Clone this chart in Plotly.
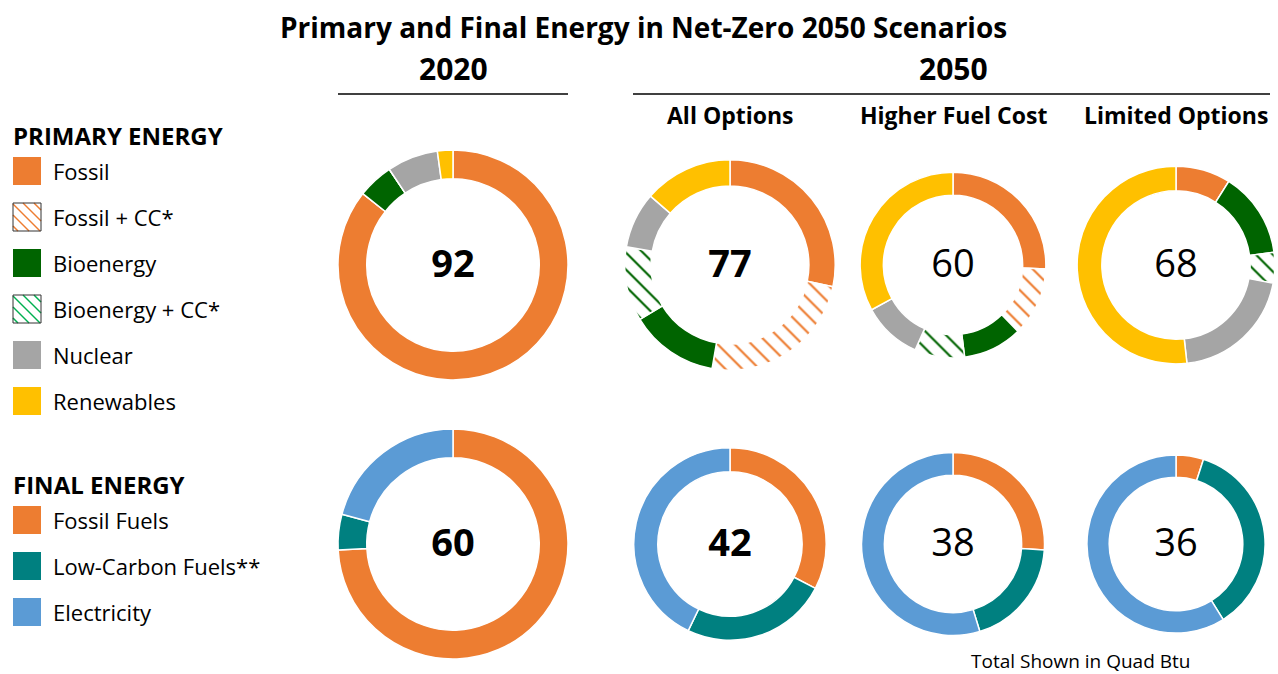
import plotly.graph_objects as go

W, H = 1278, 674

# primary energy, quad Btu (clockwise from 12 o'clock)
primary_labels = ["Fossil", "Fossil + CC*", "Bioenergy", "Bioenergy + CC*", "Nuclear", "Renewables"]
primary_2020 = [78.8, 0, 4.6, 0, 6.6, 2.0]
primary_all_options = [21.8, 18.8, 10.5, 8.8, 6.6, 10.5]
primary_higher_fuel = [15.4, 7.2, 6.2, 5.2, 6.2, 19.8]
primary_limited = [6.1, 0, 9.5, 3.4, 13.8, 35.2]

# final energy, quad Btu
final_labels = ["Fossil Fuels", "Low-Carbon Fuels**", "Electricity"]
final_2020 = [44.5, 3.0, 12.5]
final_all_options = [13.7, 10.3, 18.0]
final_higher_fuel = [9.9, 7.3, 20.8]
final_limited = [1.8, 13.0, 21.2]

scenarios = ["2020", "All Options", "Higher Fuel Cost", "Limited Options"]

primary_colors = ["#ED7D31", "#ED7D31", "#006400", "#006400", "#A5A5A5", "#FFC000"]
primary_patterns = ["", "\\", "", "\\", "", ""]
primary_legend_colors = ["#ED7D31", "#ED7D31", "#006400", "#00B050", "#A5A5A5", "#FFC000"]
final_colors = ["#ED7D31", "#008080", "#5B9BD5"]

FONT = "Open Sans"
col_x = [453, 730, 953, 1176]
row_y = [265, 544]
R_MAX = 115
bold_total = [True, True, False, False]


def px(x):
    return x / W


def py(y):
    return 1 - y / H


fig = go.Figure()


def add_donut(values, labels, colors, patterns, cx, cy, r, bold):
    total = sum(values)
    weight = "bold" if bold else 500
    fig.add_trace(
        go.Pie(
            values=values,
            labels=labels,
            sort=False,
            direction="clockwise",
            rotation=0,
            hole=0.75,
            textinfo="none",
            showlegend=False,
            marker=dict(
                colors=colors,
                line=dict(color="white", width=1.5),
                pattern=dict(shape=patterns, fillmode="replace", size=12, solidity=0.18),
            ),
            title=dict(
                text=f"{total:.0f}",
                position="middle center",
                font=dict(family=FONT, size=38, color="black", weight=weight),
            ),
            domain=dict(x=[px(cx - r), px(cx + r)], y=[py(cy + r), py(cy - r)]),
        )
    )


primary_rows = [primary_2020, primary_all_options, primary_higher_fuel, primary_limited]
final_rows = [final_2020, final_all_options, final_higher_fuel, final_limited]

p_max = max(sum(v) for v in primary_rows)
for i, vals in enumerate(primary_rows):
    r = R_MAX * (sum(vals) / p_max) ** 0.5
    add_donut(vals, primary_labels, primary_colors, primary_patterns, col_x[i], row_y[0], r, bold_total[i])

f_max = max(sum(v) for v in final_rows)
for i, vals in enumerate(final_rows):
    r = R_MAX * (sum(vals) / f_max) ** 0.5
    add_donut(vals, final_labels, final_colors, [""] * 3, col_x[i], row_y[1], r, bold_total[i])

annotations = []
shapes = []


def text(x, y, s, size, bold=False, anchor="center"):
    annotations.append(
        dict(
            x=px(x), y=py(y), xref="paper", yref="paper", text=s, showarrow=False,
            xanchor=anchor, yanchor="middle",
            font=dict(family=FONT, size=size, color="black", weight="bold" if bold else "normal"),
        )
    )


text(643, 27, "Primary and Final Energy in Net-Zero 2050 Scenarios", 28, True)
text(453, 68, "2020", 30, True)
text(953, 68, "2050", 30, True)
for i in range(1, 4):
    text(col_x[i], 115, scenarios[i], 23, True)
shapes.append(dict(type="line", xref="paper", yref="paper", x0=px(338), x1=px(568), y0=py(94), y1=py(94),
                   line=dict(color="black", width=1.5)))
shapes.append(dict(type="line", xref="paper", yref="paper", x0=px(633), x1=px(1270), y0=py(94), y1=py(94),
                   line=dict(color="black", width=1.5)))
text(1192, 661, "Total Shown in Quad Btu", 19, anchor="right")

# legend
SW = 28


def swatch(y, color, hatched):
    x0, y0 = 13, y - SW / 2
    if not hatched:
        shapes.append(dict(type="rect", xref="paper", yref="paper", x0=px(x0), x1=px(x0 + SW),
                           y0=py(y0 + SW), y1=py(y0), fillcolor=color, line=dict(width=0)))
        return
    step = 11
    c = -SW + 5
    while c < SW:
        if c >= 0:
            xa, ya, xb, yb = x0 + c, y0, x0 + SW, y0 + SW - c
        else:
            xa, ya, xb, yb = x0, y0 - c, x0 + SW + c, y0 + SW
        shapes.append(dict(type="line", xref="paper", yref="paper", x0=px(xa), y0=py(ya), x1=px(xb), y1=py(yb),
                           line=dict(color=color, width=1.5)))
        c += step
    shapes.append(dict(type="rect", xref="paper", yref="paper", x0=px(x0), x1=px(x0 + SW),
                       y0=py(y0 + SW), y1=py(y0), line=dict(color="#333333", width=1)))


text(11, 136, "PRIMARY ENERGY", 24, True, "left")
for k, lab in enumerate(primary_labels):
    y = 171 + 46 * k
    swatch(y, primary_legend_colors[k], primary_patterns[k] != "")
    text(51, y, lab, 22, anchor="left")

text(11, 484, "FINAL ENERGY", 24, True, "left")
for k, lab in enumerate(final_labels):
    y = 520 + 46 * k
    swatch(y, final_colors[k], False)
    text(51, y, lab, 22, anchor="left")

fig.update_layout(
    width=W,
    height=H,
    margin=dict(l=0, r=0, t=0, b=0),
    paper_bgcolor="white",
    plot_bgcolor="white",
    annotations=annotations,
    shapes=shapes,
    font=dict(family=FONT),
)

# the page body has a default margin; drop it so the figure sits at the window origin
fig.write_html(
    "out.html",
    config={"displayModeBar": False},
    post_script="document.body.style.margin='0';document.body.style.padding='0';",
)
